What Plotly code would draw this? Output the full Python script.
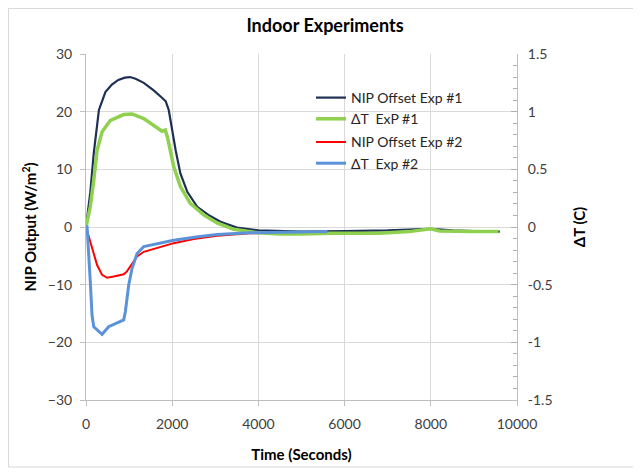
import plotly.graph_objects as go

# ---- Data ----
t_nip1 = [0, 100, 180, 300, 450, 600, 750, 900, 1020, 1150, 1340, 1570, 1750, 1850, 1920,
          2000, 2080, 2190, 2350, 2580, 2880, 3120, 3500, 4000, 5000, 6000, 7000, 8000,
          8500, 9000, 9600]
nip1 = [0, 6, 12.8, 20.3, 23.4, 24.7, 25.5, 25.9, 26.0, 25.7, 25.0, 23.7, 22.5, 21.8, 20.3,
        16.8, 13.3, 9.3, 6.1, 3.5, 1.9, 0.9, -0.1, -0.6, -0.8, -0.7, -0.6, -0.3,
        -0.6, -0.7, -0.8]

t_dt1 = [0, 100, 180, 257, 373, 566, 875, 1068, 1340, 1570, 1765, 1840, 1895, 2035, 2190,
         2420, 2730, 3040, 3425, 4000, 4500, 5000, 5670, 6800, 7500, 8000, 8200, 9000, 9570]
dt1 = [0, 0.175, 0.405, 0.665, 0.825, 0.925, 0.975, 0.98, 0.94, 0.885, 0.83, 0.84, 0.77,
       0.525, 0.35, 0.205, 0.105, 0.035, -0.02, -0.05, -0.06, -0.06, -0.055, -0.055, -0.04,
       -0.015, -0.035, -0.04, -0.04]

t_nip2 = [0, 140, 257, 373, 490, 643, 875, 950, 1068, 1185, 1340, 1725, 2035, 2500, 3040,
          3800, 5000, 5600]
nip2 = [0, -3.7, -6.6, -8.3, -8.8, -8.6, -8.2, -7.7, -6.3, -5.1, -4.3, -3.5, -2.8, -2.1, -1.5,
        -1.1, -0.9, -0.8]

t_dt2 = [0, 25, 100, 140, 180, 295, 373, 526, 720, 875, 913, 990, 1068, 1185, 1340, 1725,
         2035, 2600, 3040, 3800, 4970, 5600]
dt2 = [0, 0, -0.475, -0.765, -0.865, -0.905, -0.93, -0.865, -0.835, -0.805, -0.735, -0.505,
       -0.36, -0.23, -0.17, -0.14, -0.115, -0.085, -0.065, -0.05, -0.04, -0.04]

names = ["NIP Offset Exp #1", "\u0394T  ExP #1", "NIP Offset Exp #2", "\u0394T  Exp #2"]
colors = ["#1f3055", "#8fd14f", "#ff0000", "#5b93d8"]

x_ticks = [0, 2000, 4000, 6000, 8000, 10000]
y_ticks = [-30, -20, -10, 0, 10, 20, 30]
y2_ticks = [-1.5, -1, -0.5, 0, 0.5, 1, 1.5]
y2_text = ["-1.5", "-1", "-0.5", "0", "0.5", "1", "1.5"]

FONT = "Lato, 'Open Sans', sans-serif"

fig = go.Figure()
fig.add_trace(go.Scatter(x=t_nip1, y=nip1, name=names[0], mode="lines",
                         line=dict(color=colors[0], width=2.2), legendgroup="g1"))
fig.add_trace(go.Scatter(x=t_dt1, y=dt1, name=names[1], mode="lines", yaxis="y2",
                         line=dict(color=colors[1], width=3.5), legendgroup="g1"))
fig.add_trace(go.Scatter(x=t_nip2, y=nip2, name=names[2], mode="lines",
                         line=dict(color=colors[2], width=2), legendgroup="g2"))
fig.add_trace(go.Scatter(x=t_dt2, y=dt2, name=names[3], mode="lines", yaxis="y2",
                         line=dict(color=colors[3], width=3), legendgroup="g2"))

axis_font = dict(family=FONT, size=14, color="#404040")
title_font = dict(family=FONT, size=15, color="#000000")

W, H = 633, 464          # page has an 8px body margin
L, T = 78, 46
PW, PH = 431, 346

fig.update_layout(
    width=W, height=H,
    margin=dict(l=L, r=W - L - PW, t=T, b=H - T - PH),
    paper_bgcolor="white", plot_bgcolor="white",
    title=dict(text="<b>Indoor Experiments</b>", x=317 / W, xanchor="center",
               y=1 - 18 / H, yanchor="middle",
               font=dict(family=FONT, size=18, color="#000000")),
    xaxis=dict(range=[0, 10000], tickvals=x_ticks, ticktext=[str(v) for v in x_ticks],
               showgrid=True, gridcolor="#d9d9d9", gridwidth=1, zeroline=False,
               showline=True, linecolor="#bfbfbf", ticks="outside", ticklen=5,
               tickcolor="#bfbfbf", tickfont=axis_font, ticklabelstandoff=6,
               title=dict(text="<b>Time (Seconds)</b>", font=title_font, standoff=18)),
    yaxis=dict(range=[-30, 30], tickvals=y_ticks, showgrid=True, gridcolor="#d9d9d9",
               gridwidth=1, zeroline=False, showline=True, linecolor="#bfbfbf",
               ticks="outside", ticklen=5, tickcolor="#bfbfbf", tickfont=axis_font,
               ticklabelstandoff=5,
               title=dict(text="<b>NIP Output (W/m<sup>2</sup>)</b>", font=title_font,
                          standoff=7)),
    yaxis2=dict(range=[-1.5, 1.5], tickvals=y2_ticks,
                ticktext=["\u2002" + s for s in y2_text],
                overlaying="y", side="right", showgrid=False, zeroline=False,
                showline=True, linecolor="#bfbfbf", ticks="inside", ticklen=6,
                tickcolor="#b0b0b0", tickfont=axis_font,
                minor=dict(dtick=0.1, ticks="inside", ticklen=4, tickcolor="#b0b0b0"),
                title=dict(text="<b>\u0394T (C)</b>", font=title_font, standoff=22)),
    legend=dict(x=(311 - 86) / PW, y=(400 - 82) / PH, xanchor="left", yanchor="top",
                bgcolor="rgba(0,0,0,0)", font=dict(family=FONT, size=14, color="#262626"),
                traceorder="grouped", tracegroupgap=2, itemwidth=30),
    showlegend=True,
)

# outer chart border
fig.add_shape(type="rect", xref="paper", yref="paper",
              x0=(0.5 - L) / PW, x1=(626 - L) / PW,
              y0=(T + PH - 459) / PH, y1=(T + PH - 0.5) / PH,
              line=dict(color="#d9d9d9", width=1), fillcolor="rgba(0,0,0,0)", layer="below")

fig.write_html("out.html")
